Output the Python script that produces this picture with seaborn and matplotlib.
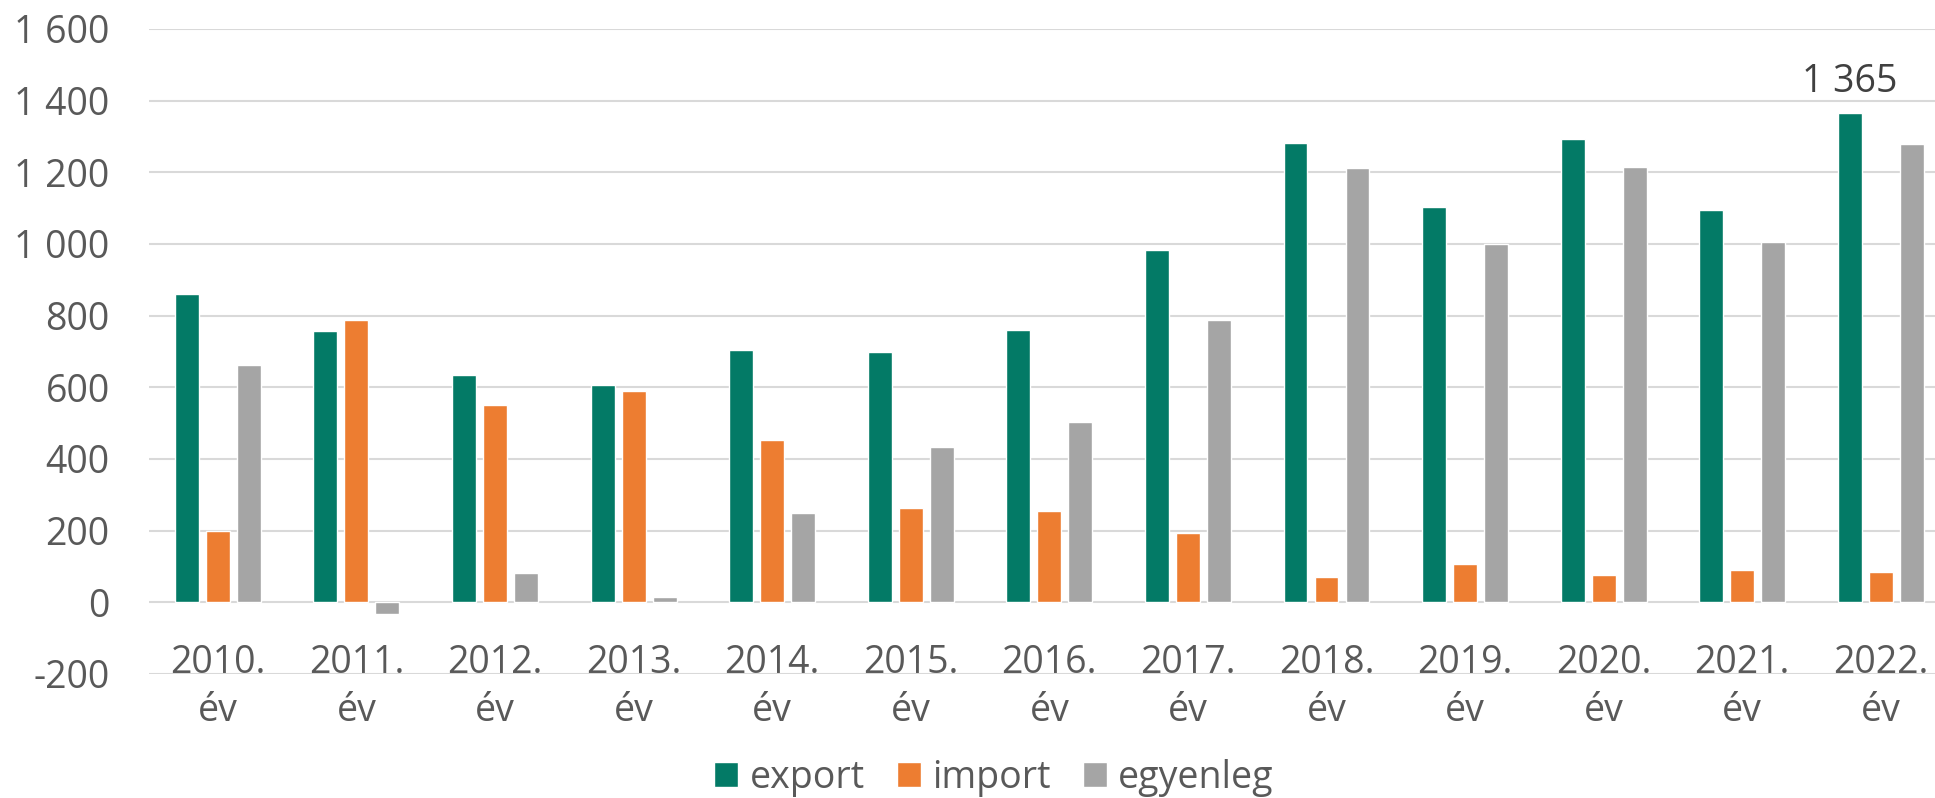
import matplotlib
matplotlib.use("Agg")
import matplotlib.pyplot as plt
import seaborn as sns
import pandas as pd
from matplotlib.patches import Patch

years = ["2010.\név", "2011.\név", "2012.\név", "2013.\név", "2014.\név", "2015.\név",
         "2016.\név", "2017.\név", "2018.\név", "2019.\név", "2020.\név", "2021.\név", "2022.\név"]
export = [860, 757, 635, 607, 705, 698, 760, 983, 1283, 1104, 1292, 1096, 1365]
imports = [199, 789, 551, 591, 453, 264, 254, 193, 71, 107, 75, 90, 85]
egyenleg = [661, -33, 82, 14, 250, 433, 504, 787, 1212, 999, 1215, 1005, 1279]
series = ["export", "import", "egyenleg"]
colors = ["#037A66", "#ED7D31", "#A5A5A5"]
yticks = [-200, 0, 200, 400, 600, 800, 1000, 1200, 1400, 1600]
ytick_labels = ["-200", "0", "200", "400", "600", "800", "1 000", "1 200", "1 400", "1 600"]

df = pd.DataFrame({
    "year": years * 3,
    "value": export + imports + egyenleg,
    "series": ["export"] * 13 + ["import"] * 13 + ["egyenleg"] * 13,
})

sns.set_theme(style="white")
plt.rcParams["font.family"] = ["Open Sans", "DejaVu Sans"]
txt = "#595959"
fs = 27

fig = plt.figure(figsize=(19.35, 7.98), dpi=100)
ax = fig.add_axes([0.0768, 0.1554, 0.931, 0.8083])
sns.barplot(data=df, x="year", y="value", hue="series", hue_order=series,
            palette=colors, width=0.671, gap=0.227, ax=ax, legend=False,
            saturation=1, errorbar=None)

ax.set_ylim(-200, 1600)
ax.set_xlim(-0.5, 12.5)
ax.set_yticks(yticks)
ax.set_yticklabels(ytick_labels)
ax.set_xlabel("")
ax.set_ylabel("")
ax.set_axisbelow(True)
ax.yaxis.grid(True, color="#D9D9D9", linewidth=1.5)
ax.xaxis.grid(False)
for s in ax.spines.values():
    s.set_visible(False)
ax.spines["bottom"].set_position(("data", 0))
ax.tick_params(axis="y", length=0, pad=28, labelsize=fs, labelcolor=txt)
ax.tick_params(axis="x", length=0, pad=30, labelsize=fs, labelcolor=txt)
for lab in ax.get_xticklabels():
    lab.set_linespacing(1.36)

# data label for 2022 export
ax.annotate("1 365", xy=(12 - 0.2237, export[-1]), xytext=(0, 8.5),
            textcoords="offset points", ha="center", va="bottom",
            fontsize=fs, color="#404040")

handles = [Patch(facecolor=c, label=s) for c, s in zip(colors, series)]
fig.legend(handles=handles, loc="center", bbox_to_anchor=(994 / 1935, 1 - 778 / 798),
           ncol=3, frameon=False, fontsize=fs, labelcolor=txt,
           handlelength=0.65, handleheight=0.65, handletextpad=0.3, columnspacing=0.85)

fig.savefig("out.png", dpi=100)
